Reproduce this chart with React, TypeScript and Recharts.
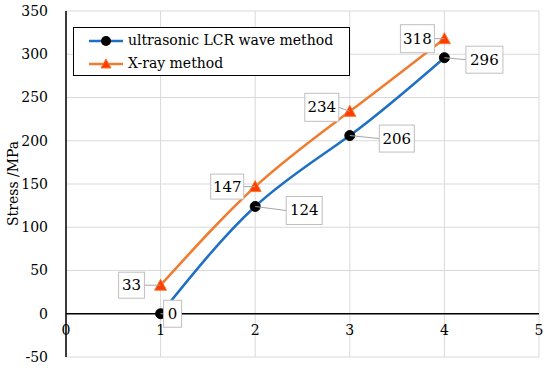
import {
  CartesianGrid,
  LabelList,
  Line,
  LineChart,
  ReferenceLine,
  XAxis,
  YAxis,
} from 'recharts'

const xValues = [1, 2, 3, 4]
const ultrasonic = [0, 124, 206, 296]
const xray = [33, 147, 234, 318]
const xTicks = [0, 1, 2, 3, 4, 5]
const yTicks = [-50, 0, 50, 100, 150, 200, 250, 300, 350]

const data = xValues.map((x, i) => ({ x, ultrasonic: ultrasonic[i], xray: xray[i] }))

const FONT = 'DejaVu Serif'
const BLUE = '#1f6fc4'
const ORANGE = '#f07c30'

// label box placement, relative to the point: [dx, dy, width, height]
const blueBoxes = [
  [12, 0, 18, 27],
  [49, 4, 36, 28],
  [47, 3, 35, 27],
  [40, 2, 37, 27],
]
const orangeBoxes = [
  [-29, 0, 26, 26],
  [-28, 0, 33, 25],
  [-28, -4, 34, 28],
  [-27, 0, 34, 28],
]

function makeLabel(boxes: number[][]) {
  return (props: any) => {
    const { x, y, value, index } = props
    const [dx, dy, w, h] = boxes[index]
    const cx = x + dx
    const cy = y + dy
    const edgeX = dx > 0 ? cx - w / 2 : cx + w / 2
    return (
      <g>
        <line x1={x} y1={y} x2={edgeX} y2={cy} stroke="#a6a6a6" strokeWidth={1} />
        <rect x={cx - w / 2} y={cy - h / 2} width={w} height={h} fill="#fff" stroke="#bfbfbf" />
        <text
          x={cx}
          y={cy}
          textAnchor="middle"
          dominantBaseline="central"
          fontFamily={FONT}
          fontSize={15}
          fill="#000"
        >
          {value}
        </text>
      </g>
    )
  }
}

function CircleDot(props: any) {
  const { cx, cy } = props
  return <circle cx={cx} cy={cy} r={5} fill="#000" stroke="#000" />
}

function TriangleDot(props: any) {
  const { cx, cy } = props
  return (
    <polygon
      points={`${cx},${cy - 6} ${cx - 6},${cy + 5} ${cx + 6},${cy + 5}`}
      fill="#ff3b00"
      stroke={ORANGE}
      strokeWidth={1}
    />
  )
}

function XTick(props: any) {
  const { x, y, payload } = props
  return (
    <text x={x} y={y - 22} textAnchor="middle" fontFamily={FONT} fontSize={14} fill="#000">
      {payload.value}
    </text>
  )
}

function LegendBox() {
  const items = [
    { name: 'ultrasonic LCR wave method', color: BLUE, tri: false },
    { name: 'X-ray method', color: ORANGE, tri: true },
  ]
  return (
    <div
      style={{
        position: 'absolute',
        left: 73,
        top: 27,
        border: '1.5px solid #000',
        background: '#fff',
        width: 277,
        height: 49,
        boxSizing: 'border-box',
        padding: '1px 0 0 14px',
        fontFamily: FONT,
        fontSize: 14,
        lineHeight: '23px',
      }}
    >
      {items.map((it) => (
        <div key={it.name} style={{ display: 'flex', alignItems: 'center', height: 23 }}>
          <svg width={38} height={14}>
            <line x1={1} y1={7} x2={35} y2={7} stroke={it.color} strokeWidth={2.5} />
            {it.tri ? (
              <polygon points="18,2 13,11 23,11" fill="#ff3b00" stroke={ORANGE} />
            ) : (
              <circle cx={18} cy={7} r={5} fill="#000" />
            )}
          </svg>
          <span style={{ marginLeft: 2 }}>{it.name}</span>
        </div>
      ))}
    </div>
  )
}

export default function App() {
  return (
    <div style={{ position: 'absolute', left: 0, top: 0, width: 550, height: 371, background: '#fff' }}>
      <LineChart width={550} height={371} data={data} margin={{ top: 11, right: 11, left: 8, bottom: 0 }}>
        <CartesianGrid stroke="#d9d9d9" strokeWidth={1} />
        <XAxis
          dataKey="x"
          type="number"
          domain={[0, 5]}
          ticks={xTicks}
          height={14}
          axisLine={false}
          tickLine={false}
          tickSize={0}
          tickMargin={0}
          tick={<XTick />}
          interval={0}
        />
        <YAxis
          type="number"
          domain={[-50, 350]}
          ticks={yTicks}
          width={58}
          axisLine={{ stroke: '#000', strokeWidth: 1.5 }}
          tickLine={false}
          tickMargin={12}
          interval={0}
          tick={{ fontFamily: FONT, fontSize: 14, fill: '#000' }}
          label={{
            value: 'Stress /MPa',
            angle: -90,
            position: 'insideLeft',
            dx: 0,
            dy: 42,
            style: { fontFamily: FONT, fontSize: 14, fill: '#000' },
          }}
        />
        <ReferenceLine y={0} stroke="#000" strokeWidth={1.5} />
        <Line
          type="natural"
          dataKey="ultrasonic"
          stroke={BLUE}
          strokeWidth={2.5}
          dot={<CircleDot />}
          activeDot={false}
          isAnimationActive={false}
        >
          <LabelList dataKey="ultrasonic" content={makeLabel(blueBoxes)} />
        </Line>
        <Line
          type="natural"
          dataKey="xray"
          stroke={ORANGE}
          strokeWidth={2.5}
          dot={<TriangleDot />}
          activeDot={false}
          isAnimationActive={false}
        >
          <LabelList dataKey="xray" content={makeLabel(orangeBoxes)} />
        </Line>
      </LineChart>
      <LegendBox />
    </div>
  )
}
